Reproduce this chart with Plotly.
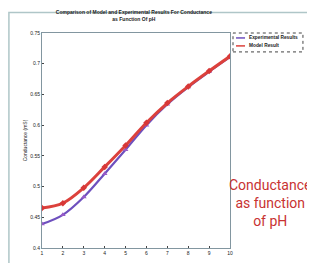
import plotly.graph_objects as go

ph = [1, 2, 3, 4, 5, 6, 7, 8, 9, 10]
model = [0.465, 0.473, 0.498, 0.532, 0.567, 0.604, 0.636, 0.663, 0.688, 0.712]
experimental = [0.439, 0.454, 0.483, 0.521, 0.560, 0.600, 0.634, 0.662, 0.687, 0.711]
x_ticks = [1, 2, 3, 4, 5, 6, 7, 8, 9, 10]
y_ticks = [0.4, 0.45, 0.5, 0.55, 0.6, 0.65, 0.7, 0.75]
series_names = ["Experimental Results", "Model Result"]
series_colors = ["rgb(110,80,190)", "rgb(220,65,60)"]

fig = go.Figure()
fig.add_trace(go.Scatter(
    x=ph, y=experimental, mode="lines+markers", name=series_names[0],
    line=dict(color=series_colors[0], width=2.2, shape="spline"),
    marker=dict(symbol="triangle-up", size=5, color="rgb(150,90,200)"),
))
fig.add_trace(go.Scatter(
    x=ph, y=model, mode="lines+markers", name=series_names[1],
    line=dict(color=series_colors[1], width=3, shape="spline"),
    marker=dict(symbol="diamond", size=5, color="rgb(215,55,55)"),
))

fig.update_layout(
    width=307, height=255,
    margin=dict(l=34, r=85, t=25, b=7),
    paper_bgcolor="white", plot_bgcolor="white",
    font=dict(family="Liberation Sans", size=5, color="#222"),
    title=dict(text="<b>Comparison of Model and Experimental Results For Conductance<br>as Function Of pH</b>",
               x=0.41, xanchor="center", y=0.975, yanchor="top",
               font=dict(size=5, color="#222")),
    showlegend=False,
    xaxis=dict(range=[1, 10], tickvals=x_ticks, showgrid=False, zeroline=False,
               showline=True, linecolor="rgb(130,150,160)", mirror=True, ticks="inside", ticklen=2,
               tickfont=dict(size=5)),
    yaxis=dict(range=[0.4, 0.75], tickvals=y_ticks, showgrid=False, zeroline=False,
               showline=True, linecolor="rgb(130,150,160)", mirror=True, ticks="inside", ticklen=2,
               tickfont=dict(size=5),
               title=dict(text="Conductance (mS)", font=dict(size=5), standoff=2)),
)

# legend box (compact, drawn manually)
fig.add_shape(type="rect", xref="paper", yref="paper", x0=1.016, x1=1.388, y0=0.912, y1=1.0,
              line=dict(color="#444", width=1, dash="dot"), fillcolor="white")
for i, (name, col) in enumerate(zip(series_names, series_colors)):
    yy = 0.977 - i * 0.037
    fig.add_shape(type="line", xref="paper", yref="paper", x0=1.032, x1=1.08, y0=yy, y1=yy,
                  line=dict(color=col, width=1.5))
    fig.add_annotation(text="<b>" + name + "</b>", xref="paper", yref="paper", x=1.092, y=yy,
                       xanchor="left", yanchor="middle", showarrow=False,
                       font=dict(size=4.8, color="#222"))

fig.add_annotation(
    text="Conductance<br>as function<br>of pH", xref="paper", yref="paper",
    x=1.213, y=0.21, xanchor="center", yanchor="middle", showarrow=False,
    font=dict(family="Roboto", size=14, color="rgb(200,50,50)"),
)
# outer frame
fig.add_shape(type="rect", xref="paper", yref="paper", x0=-0.176, x1=1.43, y0=-0.2, y1=1.095,
              line=dict(color="rgb(175,198,200)", width=1.5))

fig.write_html("out.html")
